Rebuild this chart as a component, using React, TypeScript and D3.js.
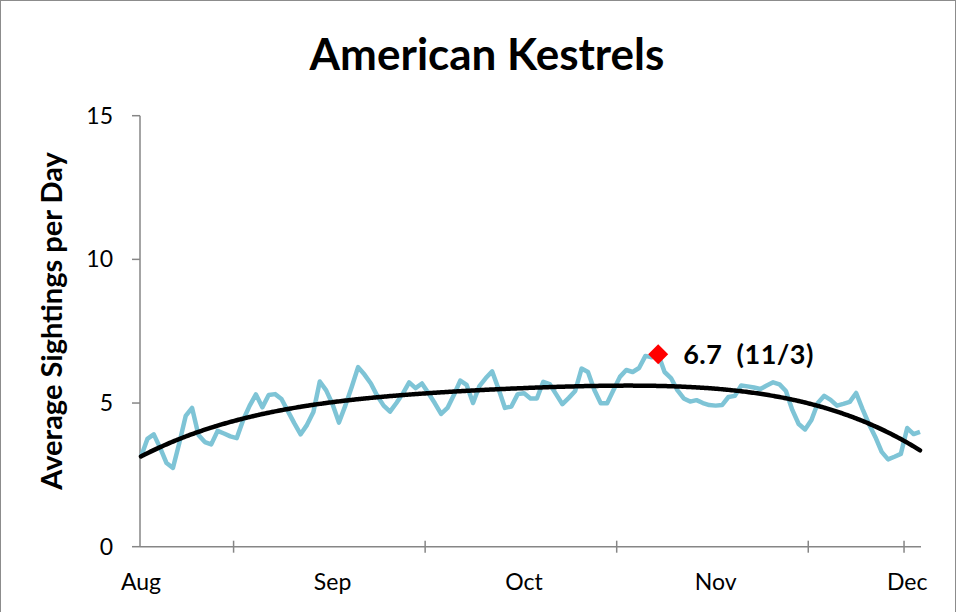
import React from 'react';
import * as d3 from 'd3';

// Average sightings per day (one value per day)
const values: number[] = [
  3.13, 3.75, 3.91, 3.44, 2.91, 2.74, 3.61, 4.55, 4.83, 3.89,
  3.64, 3.56, 4.03, 3.94, 3.84, 3.78, 4.41, 4.90, 5.30, 4.85,
  5.28, 5.31, 5.14, 4.72, 4.30, 3.91, 4.24, 4.69, 5.75, 5.44,
  4.96, 4.32, 4.91, 5.56, 6.25, 5.99, 5.68, 5.25, 4.91, 4.70,
  5.00, 5.33, 5.72, 5.52, 5.68, 5.35, 5.00, 4.62, 4.83, 5.28,
  5.78, 5.63, 5.00, 5.59, 5.87, 6.10, 5.49, 4.83, 4.88, 5.31,
  5.34, 5.16, 5.16, 5.74, 5.66, 5.31, 4.96, 5.18, 5.42, 6.20,
  6.08, 5.45, 4.99, 4.99, 5.45, 5.91, 6.15, 6.08, 6.22, 6.64,
  6.59, 6.70, 6.08, 5.87, 5.45, 5.16, 5.05, 5.10, 5.00, 4.93,
  4.91, 4.93, 5.21, 5.25, 5.61, 5.58, 5.54, 5.49, 5.61, 5.72,
  5.65, 5.42, 4.76, 4.27, 4.08, 4.41, 5.00, 5.25, 5.11, 4.91,
  4.97, 5.04, 5.35, 4.79, 4.27, 3.82, 3.30, 3.04, 3.13, 3.23,
  4.13, 3.92, 4.00,
];

const peakIndex = 81;
const peakLabel = '6.7  (11/3)';
const xLabels = ['Aug', 'Sep', 'Oct', 'Nov', 'Dec'];
const xLabelIdx = [0, 30, 60, 90, 120];
const xTickIdx = [14.5, 44.5, 74.5, 104.5, 119.5];
const yTicks = [0, 5, 10, 15];
const title = 'American Kestrels';
const yTitle = 'Average Sightings per Day';
const trendDegree = 4;

function polyfit(xs: number[], ys: number[], deg: number): number[] {
  const n = deg + 1;
  const A: number[][] = Array.from({ length: n }, () => new Array(n + 1).fill(0));
  for (let k = 0; k < xs.length; k++) {
    const pw: number[] = [];
    for (let j = 0; j < 2 * n; j++) pw.push(Math.pow(xs[k], j));
    for (let r = 0; r < n; r++) {
      for (let c = 0; c < n; c++) A[r][c] += pw[r + c];
      A[r][n] += pw[r] * ys[k];
    }
  }
  for (let i = 0; i < n; i++) {
    let m = i;
    for (let r = i + 1; r < n; r++) if (Math.abs(A[r][i]) > Math.abs(A[m][i])) m = r;
    [A[i], A[m]] = [A[m], A[i]];
    for (let r = 0; r < n; r++) {
      if (r === i) continue;
      const f = A[r][i] / A[i][i];
      for (let c = i; c <= n; c++) A[r][c] -= f * A[i][c];
    }
  }
  return A.map((row, i) => row[n] / row[i]);
}

export default function App() {
  const W = 956;
  const H = 612;
  const N = values.length;
  const x = d3.scaleLinear().domain([0, N - 1]).range([141, 920]);
  const y = d3.scaleLinear().domain([0, 15]).range([546.7, 115.7]);

  const idx = values.map((_, i) => i);
  const ts = idx.map((i) => i / (N - 1));
  const coef = polyfit(ts, values, trendDegree);
  const trendPts: [number, number][] = d3.range(0, N - 1 + 0.001, 0.25).map((i) => {
    const t = i / (N - 1);
    let v = 0;
    for (let k = coef.length - 1; k >= 0; k--) v = v * t + coef[k];
    return [i, v];
  });

  const line = d3
    .line<number>()
    .x((_, i) => x(i))
    .y((d) => y(d));
  const trendLine = d3
    .line<[number, number]>()
    .x((d) => x(d[0]))
    .y((d) => y(d[1]))
    .curve(d3.curveBasis);

  const diamond = d3.symbol().type(d3.symbolSquare).size(200)();
  const axisColor = '#868686';
  const font = 'Lato, "Open Sans", sans-serif';

  return (
    <svg
      width={W}
      height={H}
      style={{ position: 'absolute', left: 0, top: 0, background: '#fff' }}
    >
      <rect x={0.5} y={0.5} width={W - 1} height={H + 10} fill="#fff" stroke="#8c8c8c" strokeWidth={1} />
      <text x={487} y={70} textAnchor="middle" fontFamily={font} fontWeight="bold" fontSize={44} fill="#000">
        {title}
      </text>
      <text
        transform={`translate(62, 321) rotate(-90)`}
        textAnchor="middle"
        fontFamily={font}
        fontWeight="bold"
        fontSize={29}
        fill="#000"
      >
        {yTitle}
      </text>

      {/* y axis */}
      <line x1={140} x2={140} y1={y(15)} y2={y(0)} stroke={axisColor} strokeWidth={1.5} />
      {yTicks.map((t) => (
        <g key={t}>
          <line x1={132} x2={140} y1={y(t)} y2={y(t)} stroke={axisColor} strokeWidth={1.5} />
          <text x={113} y={y(t) + 8} textAnchor="end" fontFamily={font} fontSize={23} fill="#000">
            {t}
          </text>
        </g>
      ))}

      {/* x axis */}
      <line x1={140} x2={921} y1={y(0)} y2={y(0)} stroke={axisColor} strokeWidth={1.5} />
      {xTickIdx.map((t) => (
        <line key={t} x1={x(t)} x2={x(t)} y1={y(0) - 6} y2={y(0) + 6} stroke={axisColor} strokeWidth={1.5} />
      ))}
      {xLabels.map((l, i) => (
        <text key={l} x={x(xLabelIdx[i])} y={590} textAnchor="middle" fontFamily={font} fontSize={23} fill="#000">
          {l}
        </text>
      ))}

      <path d={line(values) || ''} fill="none" stroke="#7EC4D6" strokeWidth={4.5} strokeLinejoin="round" />
      <path d={trendLine(trendPts) || ''} fill="none" stroke="#000" strokeWidth={4.5} strokeLinecap="round" />

      <path
        d={diamond || ''}
        transform={`translate(${x(peakIndex)}, ${y(values[peakIndex])}) rotate(45)`}
        fill="#FF0000"
      />
      <text
        x={x(peakIndex) + 25}
        y={y(values[peakIndex]) + 10}
        fontFamily={font}
        fontWeight="bold"
        fontSize={27}
        letterSpacing={0.5}
        fill="#000"
        style={{ whiteSpace: 'pre' }}
      >
        {peakLabel}
      </text>
    </svg>
  );
}
